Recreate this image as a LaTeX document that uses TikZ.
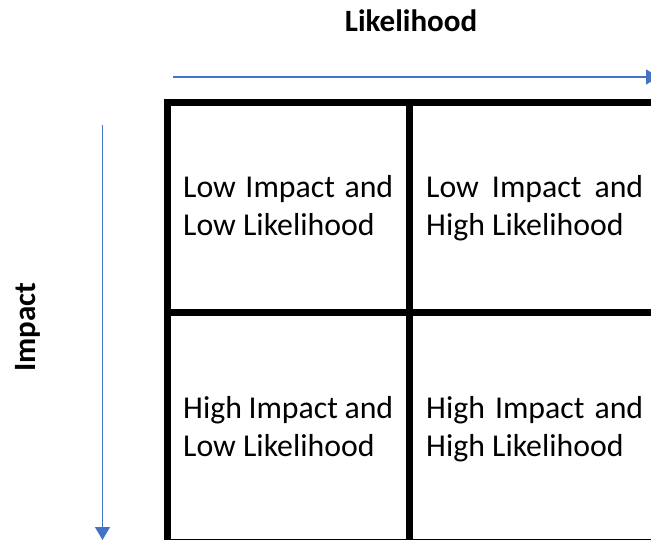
\documentclass[tikz,border=0pt]{standalone}
\usepackage{fontspec}
\setmainfont{Carlito}
\usetikzlibrary{arrows.meta}
\definecolor{axisblue}{HTML}{4472C4}
\begin{document}
\begin{tikzpicture}[x=1pt,y=-1pt,
  gridline/.style={line width=7pt, line cap=butt},
  axis/.style={draw=axisblue, line width=1.3pt, -{Triangle[width=15pt,length=13pt]}},
  celltext/.style={anchor=base west, inner sep=0pt, font=\fontsize{31.8}{38}\selectfont},
  axislabel/.style={anchor=base, inner sep=0pt, font=\fontsize{31}{36}\selectfont\bfseries}]
\useasboundingbox (0,0) rectangle (651,540);
\clip (0,0) rectangle (651,540);
% grid
\draw[gridline] (164,102.5) -- (660,102.5);
\draw[gridline] (164,312.5) -- (660,312.5);
\draw[gridline] (167.5,99) -- (167.5,545);
\draw[gridline] (409.5,99) -- (409.5,545);
\draw[line width=1pt] (164,539.5) -- (660,539.5);
% axes
\coordinate (hs) at (173,77);
\coordinate (he) at (659,77);
\coordinate (vs) at (102.5,125);
\coordinate (ve) at (102.5,540);
\draw[axis] (hs) -- (he);
\draw[axis] (vs) -- (ve);
\node[axislabel] (likelihood) at (411,32) {Likelihood};
\node[axislabel, rotate=90] (impact) at (35,327) {Impact};
% cell texts
\node[celltext] (c1a) at (183,198) {\makebox[210pt][s]{Low Impact and}};
\node[celltext] (c1b) at (183,236) {Low Likelihood};
\node[celltext] (c2a) at (426,198) {\makebox[217pt][s]{Low Impact and}};
\node[celltext] (c2b) at (426,236) {High Likelihood};
\node[celltext] (c3a) at (183,418) {\makebox[210pt][s]{High Impact and}};
\node[celltext] (c3b) at (183,456) {Low Likelihood};
\node[celltext] (c4a) at (426,418) {\makebox[217pt][s]{High Impact and}};
\node[celltext] (c4b) at (426,456) {High Likelihood};
\end{tikzpicture}
\end{document}
